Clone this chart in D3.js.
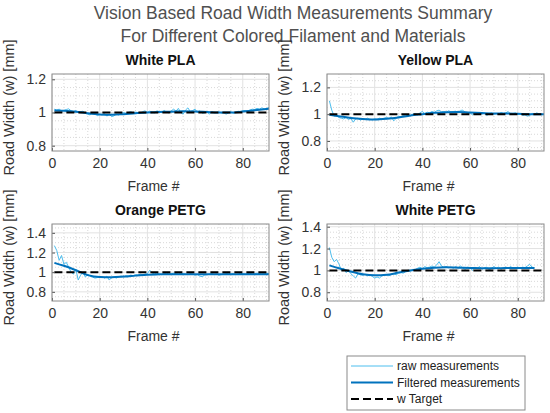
<!DOCTYPE html>
<html>
<head>
<meta charset="utf-8">
<script src="https://cdn.jsdelivr.net/npm/d3@7"></script>
<style>
  body { margin: 0; background: #fff; }
  svg { font-family: "Liberation Sans", Arial, sans-serif; }
</style>
</head>
<body>
<svg id="fig" width="550" height="413"></svg>
<script>
// raw measurements, one value per frame (frame 1..n)
var whitePlaRaw = [
  1.02,1.015,1.02,1.01,1.012,1.018,1.022,1.01,1.005,1.012,
  1.0,1.005,1.008,0.995,0.99,0.985,1.0,0.995,0.98,0.99,
  0.985,0.995,0.978,0.99,0.975,0.98,0.99,0.985,0.995,1.0,
  0.995,1.0,1.005,0.998,1.002,1.0,0.996,1.005,1.01,1.0,
  1.008,1.002,0.998,1.01,1.005,1.0,1.012,1.003,0.998,1.01,
  1.02,1.008,1.025,1.0,0.99,1.015,1.028,1.005,1.012,1.02,
  1.0,1.01,0.995,0.998,1.003,0.99,1.005,0.998,1.0,1.004,
  0.996,1.0,0.99,0.998,1.004,0.996,1.0,1.008,1.005,1.01,
  1.012,1.006,1.015,1.02,1.018,1.025,1.02,1.028,1.022,1.025,1.03];
var yellowPlaRaw = [
  1.1,1.03,0.985,0.99,0.975,0.97,0.965,0.975,0.96,0.97,
  0.94,0.965,0.97,0.955,0.965,0.96,0.97,0.962,0.958,0.965,
  0.96,0.97,0.965,0.97,0.975,0.968,0.98,0.95,0.97,0.985,
  0.98,0.99,0.985,0.995,0.99,1.0,1.005,0.995,1.01,1.02,
  1.005,1.015,1.01,1.02,1.012,1.025,1.03,1.018,1.02,1.015,
  1.025,1.018,1.02,1.022,1.015,1.028,1.03,1.012,1.005,1.01,
  0.995,1.01,1.005,1.012,1.0,1.008,0.99,1.005,1.01,1.0,
  1.005,1.0,1.012,1.005,1.01,1.02,1.0,1.005,1.01,1.0,
  1.005,0.99,0.995,0.985,0.99,1.005,1.0,1.01,1.0,0.995,1.0];
var orangePetgRaw = [
  1.27,1.22,1.12,1.17,1.08,1.1,1.05,1.0,0.98,1.03,
  0.92,0.97,1.0,0.95,0.98,0.96,0.95,0.94,0.945,0.95,
  0.955,0.94,0.96,0.92,0.945,0.95,0.94,0.955,0.96,0.95,
  0.965,0.96,0.97,0.965,0.975,0.97,0.98,0.975,0.98,0.985,
  1.02,0.99,0.985,0.99,0.98,0.975,0.985,0.99,0.98,0.985,
  0.99,0.985,0.98,0.99,0.985,0.98,0.975,0.985,0.98,0.97,
  0.975,0.96,0.955,0.97,0.975,0.98,0.985,0.975,0.98,0.97,
  0.975,0.98,0.985,0.99,0.98,0.985,0.975,0.98,0.99,0.985,
  0.98,0.985,0.99,0.98,0.985,0.99,0.985,0.98,0.985,0.99,0.985];
var whitePetgRaw = [
  1.21,1.12,1.08,1.1,1.06,1.0,1.02,0.98,1.0,0.97,
  0.95,0.93,0.97,0.96,0.955,0.965,0.95,0.96,0.945,0.93,
  0.94,0.93,0.95,0.955,0.96,0.95,0.965,0.97,0.96,0.975,
  0.98,0.975,0.99,1.0,0.995,1.01,1.005,1.02,1.03,1.015,
  1.035,1.025,1.03,1.04,1.03,1.05,1.08,1.04,1.03,1.035,
  1.025,1.03,1.02,1.035,1.025,1.04,1.02,1.01,1.03,1.025,
  1.0,1.03,1.02,1.035,1.01,1.025,1.03,1.005,1.02,1.035,
  1.02,1.03,1.01,1.025,1.03,1.02,1.035,1.02,1.025,1.03,
  1.02,1.03,1.025,1.04,1.055,1.03,1.025];

// filtered measurements, sampled frames
var filtFrames = [1,5,10,15,20,25,30,35,40,45,50,55,60,65,70,75,80,85,91];
var whitePlaFilt   = [1.012,1.01,1.005,0.995,0.988,0.986,0.99,0.996,1.0,1.003,1.005,1.007,1.006,1.003,1.0,1.0,1.006,1.013,1.022];
var yellowPlaFilt  = [0.995,0.985,0.972,0.964,0.96,0.965,0.975,0.99,1.0,1.01,1.014,1.017,1.012,1.008,1.005,1.005,1.003,1.0,1.0];
var orangePetgFilt = [1.095,1.065,1.02,0.97,0.95,0.948,0.955,0.965,0.975,0.978,0.98,0.98,0.978,0.978,0.978,0.979,0.98,0.98,0.98];
var petgFrames = [1,5,10,15,20,25,30,35,40,45,50,55,60,65,70,75,80,87];
var whitePetgFilt  = [1.046,1.02,0.99,0.965,0.955,0.96,0.98,1.0,1.015,1.025,1.028,1.025,1.022,1.02,1.02,1.022,1.022,1.022];

var targetW = 1.0;
var titles = ["White PLA", "Yellow PLA", "Orange PETG", "White PETG"];
var xTicks = [0, 20, 40, 60, 80];
var yTicksTop = [0.8, 1, 1.2];
var yTicksBottom = [0.8, 1, 1.2, 1.4];
var legendLabels = ["raw measurements", "Filtered measurements", "w Target"];

var rawColor = "#4DBEEE", filtColor = "#0072BD";

var svg = d3.select("#fig");

svg.append("text").attr("x", 293).attr("y", 19).attr("text-anchor", "middle")
  .attr("font-size", 17.5).attr("fill", "#505050")
  .text("Vision Based Road Width Measurements Summary");
svg.append("text").attr("x", 293).attr("y", 42).attr("text-anchor", "middle")
  .attr("font-size", 17.5).attr("fill", "#505050")
  .text("For Different Colored Filament and Materials");

var panels = [
  {title: titles[0], left: 52,  top: 74,  raw: whitePlaRaw,   fx: filtFrames, filt: whitePlaFilt,   ydom: [0.768, 1.232], yt: yTicksTop},
  {title: titles[1], left: 327, top: 74,  raw: yellowPlaRaw,  fx: filtFrames, filt: yellowPlaFilt,  ydom: [0.725, 1.3],   yt: yTicksTop},
  {title: titles[2], left: 52,  top: 224, raw: orangePetgRaw, fx: filtFrames, filt: orangePetgFilt, ydom: [0.707, 1.49],  yt: yTicksBottom},
  {title: titles[3], left: 327, top: 224, raw: whitePetgRaw,  fx: petgFrames, filt: whitePetgFilt,  ydom: [0.72, 1.425],  yt: yTicksBottom}
];

var pw = 217, ph = 77;

panels.forEach(function (p, i) {
  var g = svg.append("g").attr("transform", "translate(" + p.left + "," + p.top + ")");
  var x = d3.scaleLinear().domain([0, 91]).range([0, pw]);
  var y = d3.scaleLinear().domain(p.ydom).range([ph, 0]);

  g.append("clipPath").attr("id", "clip" + i)
    .append("rect").attr("width", pw).attr("height", ph);

  // minor grid
  var xMinor = d3.range(0, 91, 5).filter(function (v) { return v % 20 != 0; });
  var yMinor = d3.range(Math.ceil(p.ydom[0] / 0.05) * 0.05, p.ydom[1], 0.05)
    .filter(function (v) { return Math.abs(Math.round(v * 5) - v * 5) > 0.01; });
  g.selectAll(".xmin").data(xMinor).enter().append("line")
    .attr("x1", x).attr("x2", x).attr("y1", 0).attr("y2", ph)
    .attr("stroke", "#d8d8d8").attr("stroke-dasharray", "1,2");
  g.selectAll(".ymin").data(yMinor).enter().append("line")
    .attr("x1", 0).attr("x2", pw).attr("y1", y).attr("y2", y)
    .attr("stroke", "#d8d8d8").attr("stroke-dasharray", "1,2");
  // major grid
  g.selectAll(".xmaj").data(xTicks).enter().append("line")
    .attr("x1", x).attr("x2", x).attr("y1", 0).attr("y2", ph)
    .attr("stroke", "#e2e2e2");
  g.selectAll(".ymaj").data(p.yt).enter().append("line")
    .attr("x1", 0).attr("x2", pw).attr("y1", y).attr("y2", y)
    .attr("stroke", "#e2e2e2");

  var plot = g.append("g").attr("clip-path", "url(#clip" + i + ")");

  var rawLine = d3.line()
    .x(function (d, j) { return x(j + 1); })
    .y(function (d) { return y(d); });
  plot.append("path").datum(p.raw).attr("d", rawLine)
    .attr("fill", "none").attr("stroke", rawColor).attr("stroke-width", 1);

  var filtLine = d3.line().curve(d3.curveMonotoneX)
    .x(function (d, j) { return x(p.fx[j]); })
    .y(function (d) { return y(d); });
  plot.append("path").datum(p.filt).attr("d", filtLine)
    .attr("fill", "none").attr("stroke", filtColor).attr("stroke-width", 2);

  plot.append("line").attr("x1", x(1)).attr("x2", x(91))
    .attr("y1", y(targetW)).attr("y2", y(targetW))
    .attr("stroke", "#000").attr("stroke-width", 2).attr("stroke-dasharray", "8,4");

  // axes
  var xa = g.append("g").attr("transform", "translate(0," + ph + ")")
    .call(d3.axisBottom(x).tickValues(xTicks).tickSize(-3).tickPadding(7));
  var ya = g.append("g")
    .call(d3.axisLeft(y).tickValues(p.yt).tickSize(-3).tickPadding(6).tickFormat(d3.format("~g")));
  [xa, ya].forEach(function (a) {
    a.select(".domain").remove();
    a.selectAll("line").attr("stroke", "#555");
    a.selectAll("text").attr("font-size", 14).attr("fill", "#333")
      .attr("font-family", "Liberation Sans, Arial, sans-serif");
  });
  g.append("rect").attr("width", pw).attr("height", ph)
    .attr("fill", "none").attr("stroke", "#8a8a8a").attr("stroke-width", 1);

  g.append("text").attr("x", pw / 2).attr("y", -9).attr("text-anchor", "middle")
    .attr("font-size", 14).attr("font-weight", "bold").attr("fill", "#111")
    .text(p.title);
  g.append("text").attr("x", pw / 2 - 7).attr("y", ph + 40).attr("text-anchor", "middle")
    .attr("font-size", 14).attr("fill", "#333").text("Frame #");
  g.append("text").attr("transform", "translate(-38," + (ph / 2 - 5) + ") rotate(-90)")
    .attr("text-anchor", "middle").attr("font-size", 14.5).attr("fill", "#333")
    .text("Road Width (w) [mm]");
});

// legend
var lg = svg.append("g").attr("transform", "translate(347,356)");
lg.append("rect").attr("width", 178).attr("height", 54)
  .attr("fill", "#fff").attr("stroke", "#8a8a8a");
var legendStyles = [
  {c: rawColor, w: 1, dash: null},
  {c: filtColor, w: 2, dash: null},
  {c: "#000", w: 2, dash: "8,4"}
];
legendLabels.forEach(function (t, i) {
  var yy = 10 + i * 16.5;
  lg.append("line").attr("x1", 4).attr("x2", 46).attr("y1", yy).attr("y2", yy)
    .attr("stroke", legendStyles[i].c).attr("stroke-width", legendStyles[i].w)
    .attr("stroke-dasharray", legendStyles[i].dash);
  lg.append("text").attr("x", 50).attr("y", yy + 4).attr("font-size", 12)
    .attr("fill", "#222").text(t);
});
</script>
</body>
</html>
